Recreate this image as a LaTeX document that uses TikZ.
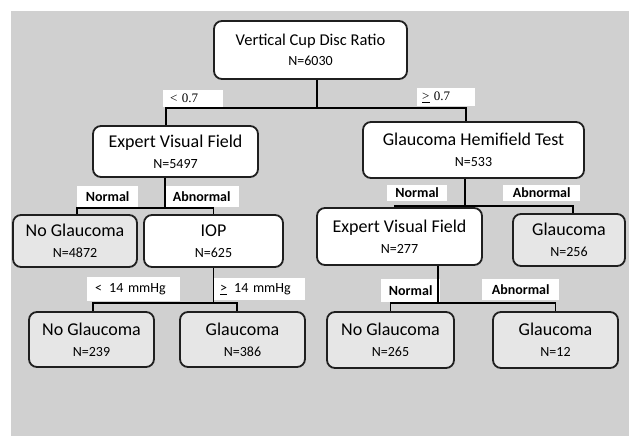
\documentclass[tikz,border=0pt]{standalone}
\usepackage{fontspec}
\setmainfont{Carlito}
\newfontfamily\serifnum{Liberation Serif}
\definecolor{bggray}{RGB}{208,208,208}
\definecolor{leafgray}{RGB}{230,230,230}
\newcommand{\cnt}[1]{{\fontsize{14}{17}\selectfont N=#1}}
\newcommand{\geqsign}{\underline{>}}

\begin{document}
\begin{tikzpicture}[x=1pt,y=-1pt,
  box/.style={draw=black!88, line width=1.8pt, rounded corners=8pt, fill=white,
    align=center, inner sep=0pt, font=\fontsize{18}{21}\selectfont},
  leaf/.style={box, fill=leafgray},
  lbl/.style={fill=white, anchor=west, inner xsep=0pt, inner ysep=0pt, align=center,
    font=\bfseries\fontsize{14}{16}\selectfont},
  cut/.style={lbl, align=left, font=\fontsize{14}{16}\selectfont},
  link/.style={line width=1.8pt}]
  \useasboundingbox (0,0) rectangle (629,436);
  \fill[bggray] (11,11) rectangle (629,436);

  \node[box, minimum width=193pt, minimum height=58pt, font=\fontsize{16.5}{20}\selectfont] (vcdr) at (310.5,50) {Vertical Cup Disc Ratio\\\cnt{6030}};
  \node[box, minimum width=165pt, minimum height=51pt] (evfa) at (175.5,151.5) {Expert Visual Field\\\cnt{5497}};
  \node[box, minimum width=221pt, minimum height=56pt] (ght) at (473.5,150) {Glaucoma Hemifield Test\\\cnt{533}};
  \node[leaf, minimum width=124pt, minimum height=52pt] (noga) at (75,241) {No Glaucoma\\\cnt{4872}};
  \node[box, minimum width=139pt, minimum height=52pt] (iop) at (213.5,241) {IOP\\\cnt{625}};
  \node[box, minimum width=165pt, minimum height=57pt] (evfb) at (399.5,236.5) {Expert Visual Field\\\cnt{277}};
  \node[leaf, minimum width=112pt, minimum height=52pt] (glab) at (569,240) {Glaucoma\\\cnt{256}};
  \node[leaf, minimum width=125pt, minimum height=55pt] (nogb) at (91.5,339.5) {No Glaucoma\\\cnt{239}};
  \node[leaf, minimum width=125pt, minimum height=55pt] (glac) at (242.5,339.5) {Glaucoma\\\cnt{386}};
  \node[leaf, minimum width=127pt, minimum height=56pt] (nogc) at (390.5,340) {No Glaucoma\\\cnt{265}};
  \node[leaf, minimum width=125pt, minimum height=56pt] (glad) at (555.5,340) {Glaucoma\\\cnt{12}};

  % branch labels
  \node[cut, text width=46pt, inner xsep=7pt, minimum height=17pt, font=\serifnum\fontsize{13}{15}\selectfont] (lt07) at (163,98.5) {< 0.7};
  \node[cut, text width=48pt, inner xsep=5pt, minimum height=18pt, font=\serifnum\fontsize{13}{15}\selectfont] (ge07) at (417,97) {\geqsign{} 0.7};
  \node[lbl, text width=61pt, minimum height=21pt] (nrm1) at (77,196.5) {Normal};
  \node[lbl, text width=75pt, minimum height=21pt] (abn1) at (164,196.5) {Abnormal};
  \node[cut, text width=77pt, inner xsep=8pt, minimum height=24pt] (lt14) at (87,289) {< \,14 mmHg};
  \node[cut, text width=79pt, inner xsep=6pt, minimum height=22pt] (ge14) at (214,289) {\geqsign\ \,14 mmHg};
  \node[lbl, text width=60pt, minimum height=16pt] (nrm2) at (387,193) {Normal};
  \node[lbl, text width=77pt, minimum height=16pt] (abn2) at (503,193) {Abnormal};
  \node[lbl, text width=59pt, minimum height=23pt] (nrm3) at (381,290.5) {Normal};
  \node[lbl, text width=77pt, minimum height=21pt] (abn3) at (482,289.5) {Abnormal};

  % splits
  \draw[link] ([xshift=6.5pt]vcdr.south) -- ++(0,28) coordinate (j1);
  \draw[link] ([xshift=-9.5pt]evfa.north) |- (j1) -| ([xshift=-7.5pt]ght.north);
  \draw[link] ([xshift=-10.5pt]evfa.south) -- ++(0,30) coordinate (j2);
  \draw[link] ([xshift=2pt]noga.north) |- (j2) -| (iop.north);
  \draw[link] ([xshift=-8.5pt]ght.south) -- ++(0,27) coordinate (j3);
  \draw[link] ([xshift=-4.5pt]evfb.north) |- (j3) -| ([xshift=4pt]glab.north);
  \draw[link] (iop.south) -- ++(0,35) coordinate (j4);
  \draw[link] ([xshift=1.5pt]nogb.north) |- (j4) -| ([xshift=-5.5pt]glac.north);
  \draw[link] ([xshift=38.5pt]evfb.south) -- ++(0,37) coordinate (j5);
  \draw[link] (nogc.north) |- (j5) -| (glad.north);
\end{tikzpicture}
\end{document}
